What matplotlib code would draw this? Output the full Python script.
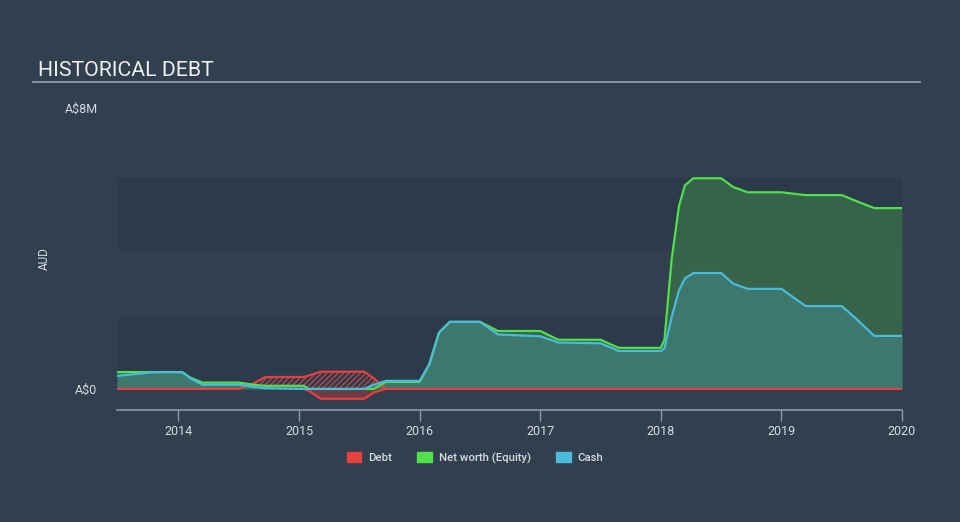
import numpy as np
import matplotlib.pyplot as plt
from matplotlib.patches import Patch

plt.rcParams['font.family'] = ['Roboto', 'DejaVu Sans']

# time in decimal years, values in A$ millions
t = [2013.49, 2013.8, 2014.03, 2014.1, 2014.2, 2014.5, 2014.62, 2014.72, 2015.04, 2015.08,
     2015.18, 2015.54, 2015.62, 2015.72, 2016.0, 2016.08, 2016.16, 2016.25, 2016.5, 2016.65,
     2017.0, 2017.15, 2017.5, 2017.65, 2018.0, 2018.03, 2018.09, 2018.15, 2018.2, 2018.27,
     2018.5, 2018.6, 2018.72, 2019.0, 2019.2, 2019.5, 2019.62, 2019.77, 2020.0]

debt = [0, 0, 0, 0, 0, 0, 0.15, 0.34, 0.34, 0.38, 0.49, 0.49, 0.3, 0, 0, 0, 0, 0, 0, 0,
        0, 0, 0, 0, 0, 0, 0, 0, 0, 0, 0, 0, 0, 0, 0, 0, 0, 0, 0]

equity = [0.48, 0.48, 0.48, 0.32, 0.18, 0.18, 0.12, 0.09, 0.09, -0.05, -0.28, -0.28, -0.1,
          0.2, 0.2, 0.7, 1.6, 1.91, 1.91, 1.65, 1.65, 1.40, 1.40, 1.17, 1.17, 1.4, 3.7,
          5.2, 5.8, 6.0, 6.0, 5.75, 5.6, 5.6, 5.52, 5.52, 5.35, 5.15, 5.15]

cash = [0.37, 0.48, 0.48, 0.3, 0.12, 0.12, 0.06, 0.02, 0.0, 0.0, 0.0, 0.0, 0.12, 0.23,
        0.23, 0.7, 1.6, 1.91, 1.91, 1.55, 1.5, 1.32, 1.3, 1.08, 1.08, 1.15, 2.05, 2.8,
        3.15, 3.3, 3.3, 3.0, 2.85, 2.85, 2.36, 2.36, 2.0, 1.51, 1.51]

years = [2014, 2015, 2016, 2017, 2018, 2019, 2020]

bg = '#323f4f'
band = '#2d3a4a'
red = '#e8403f'
green = '#4fe04a'
blue = '#4bbbdc'
txt = '#d6dbe0'

x = np.array(t)
d = np.array(debt)
e = np.array(equity)
c = np.array(cash)

fig = plt.figure(figsize=(9.6, 5.22), dpi=100, facecolor=bg)
ax = fig.add_axes([117 / 960, 112 / 522, 785 / 960, 302 / 522])
ax.set_facecolor(bg)

ax.axhspan(0, 2, color=band, zorder=0)
ax.axhspan(4, 6, color=band, zorder=0)

e_pos = np.clip(e, 0, None)
e_neg = np.clip(e, None, 0)

ax.fill_between(x, 0, e_pos, color='#3a6b4c', alpha=0.85, lw=0, zorder=1)
ax.fill_between(x, 0, c, color='#3e7a72', alpha=0.9, lw=0, zorder=2)

# negative equity shown in red
neg_idx = np.where(e < 0)[0]
lo, hi = neg_idx[0] - 1, neg_idx[-1] + 1
ax.fill_between(x[lo:hi + 1], 0, e_neg[lo:hi + 1], color='#7a3a44', alpha=0.8, lw=0, zorder=2)
ax.plot(x[lo:hi + 1], e_neg[lo:hi + 1], color=red, lw=1.6, zorder=4)

# debt above cash, hatched
ax.fill_between(x, c, d, where=d > c, interpolate=True, facecolor='none',
                edgecolor='#b04a50', hatch='//////', lw=0, zorder=3)
ax.plot(x, d, color=red, lw=1.6, zorder=4)

ax.plot(x, e_pos, color=green, lw=1.6, zorder=5)
ax.plot(x, c, color=blue, lw=1.6, zorder=6)

ax.set_xlim(2013.49, 2020.0)
ax.set_ylim(-0.6, 8.0)
ax.set_xticks(years)
ax.set_xticklabels([str(y) for y in years])
ax.set_yticks([0, 8])
ax.set_yticklabels(['A$0', 'A$8M'])
ax.tick_params(axis='y', length=0, pad=14, labelcolor=txt, labelsize=9)
ax.tick_params(axis='x', direction='out', length=8, width=1, color='#8e99a6',
               labelcolor=txt, labelsize=9, pad=3)
for s in ['top', 'right', 'left']:
    ax.spines[s].set_visible(False)
ax.spines['bottom'].set_color('#8e99a6')
ax.spines['bottom'].set_linewidth(1.2)
ax.set_ylabel('AUD', color=txt, fontsize=8.5, labelpad=10)

fig.text(38 / 960, 1 - 70 / 522, 'HISTORICAL DEBT', color='#eef0f2', fontsize=15.3,
         va='center', ha='left')
fig.add_artist(plt.Line2D([33 / 960, 920 / 960], [1 - 82 / 522, 1 - 82 / 522],
                          color='#9aa3ad', lw=1.2))

handles = [Patch(color=red, label='Debt'), Patch(color=green, label='Net worth (Equity)'),
           Patch(color=blue, label='Cash')]
fig.legend(handles=handles, loc='center', bbox_to_anchor=(475 / 960, 1 - 458 / 522),
           ncol=3, frameon=False, fontsize=8.2, labelcolor=txt, handlelength=1.3,
           handleheight=1.0, columnspacing=2.2, handletextpad=0.6,
           prop={'weight': 'medium', 'size': 8.2})

fig.savefig('out.png', dpi=100, facecolor=bg)
